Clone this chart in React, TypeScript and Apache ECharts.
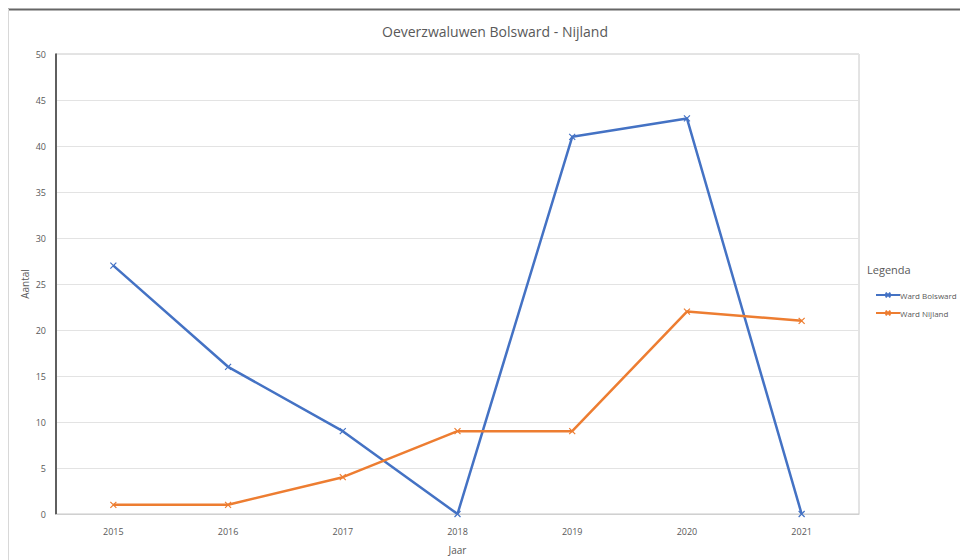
import React, { useEffect, useRef } from "react";
import * as echarts from "echarts";

const years = ["2015", "2016", "2017", "2018", "2019", "2020", "2021"];
const bolsward = [27, 16, 9, 0, 41, 43, 0];
const nijland = [1, 1, 4, 9, 9, 22, 21];
const seriesNames = ["Ward Bolsward", "Ward Nijland"];
const colors = ["#4472c4", "#ed7d31"];

const xSym = "path://M0,0L10,10M10,0L0,10";

export default function App() {
  const ref = useRef<HTMLDivElement>(null);
  useEffect(() => {
    if (!ref.current) return;
    const chart = echarts.init(ref.current, null, { renderer: "svg" });
    const font = "'Open Sans', 'Noto Sans', sans-serif";
    const mk = (name: string, data: number[], color: string) => ({
      name,
      type: "line",
      data,
      symbol: xSym,
      symbolSize: 6,
      showAllSymbol: true,
      lineStyle: { color, width: 2.5 },
      itemStyle: { color, borderColor: color, borderWidth: 1.2 },
    });
    chart.setOption({
      animation: false,
      backgroundColor: "#ffffff",
      title: {
        text: "Oeverzwaluwen Bolsward - Nijland",
        left: 490,
        top: 19,
        textAlign: "center",
        textStyle: { fontFamily: font, fontSize: 14, fontWeight: "normal", color: "#595959" },
      },
      grid: {
        left: 56,
        top: 54,
        width: 803,
        height: 460,
        show: true,
        borderColor: "#c8c8c8",
        borderWidth: 1,
        outerBoundsMode: "none",
        containLabel: false,
      },
      legend: {
        orient: "vertical",
        left: 870,
        top: 286,
        itemWidth: 24,
        itemHeight: 6,
        itemGap: 10,
        textStyle: { fontFamily: font, fontSize: 8, color: "#595959", padding: [0, 0, 0, -5] },
        data: seriesNames,
      },
      xAxis: {
        type: "category",
        data: years,
        boundaryGap: true,
        name: "Jaar",
        nameLocation: "middle",
        nameGap: 31,
        nameMoveOverlap: false,
        nameTextStyle: { fontFamily: font, fontSize: 10, color: "#595959" },
        axisLine: { lineStyle: { color: "#d0d0d0" } },
        axisTick: { show: false },
        axisLabel: { fontFamily: font, fontSize: 9, color: "#595959", margin: 13 },
      },
      yAxis: {
        type: "value",
        min: 0,
        max: 50,
        interval: 5,
        name: "Aantal",
        nameLocation: "middle",
        nameGap: 26,
        nameMoveOverlap: false,
        nameTextStyle: { fontFamily: font, fontSize: 10, color: "#595959" },
        axisLine: { show: true, lineStyle: { color: "#333333", width: 1.5 } },
        axisTick: { show: false },
        axisLabel: { fontFamily: font, fontSize: 9, color: "#595959", margin: 10 },
        splitLine: { lineStyle: { color: "#e3e3e3" } },
      },
      graphic: [
        { type: "line", shape: { x1: 8, y1: 9.5, x2: 960, y2: 9.5 }, style: { stroke: "#666", lineWidth: 2 } },
        { type: "line", shape: { x1: 8.5, y1: 9, x2: 8.5, y2: 560 }, style: { stroke: "#d8d8d8", lineWidth: 1 } },
        {
          type: "text",
          left: 867,
          top: 264,
          style: { text: "Legenda", fontFamily: font, fontSize: 11, fill: "#595959" },
        },
      ],
      series: [mk(seriesNames[0], bolsward, colors[0]), mk(seriesNames[1], nijland, colors[1])],
    });
    return () => chart.dispose();
  }, []);
  return <div ref={ref} style={{ position: "absolute", left: 0, top: 0, width: 960, height: 560 }} />;
}
